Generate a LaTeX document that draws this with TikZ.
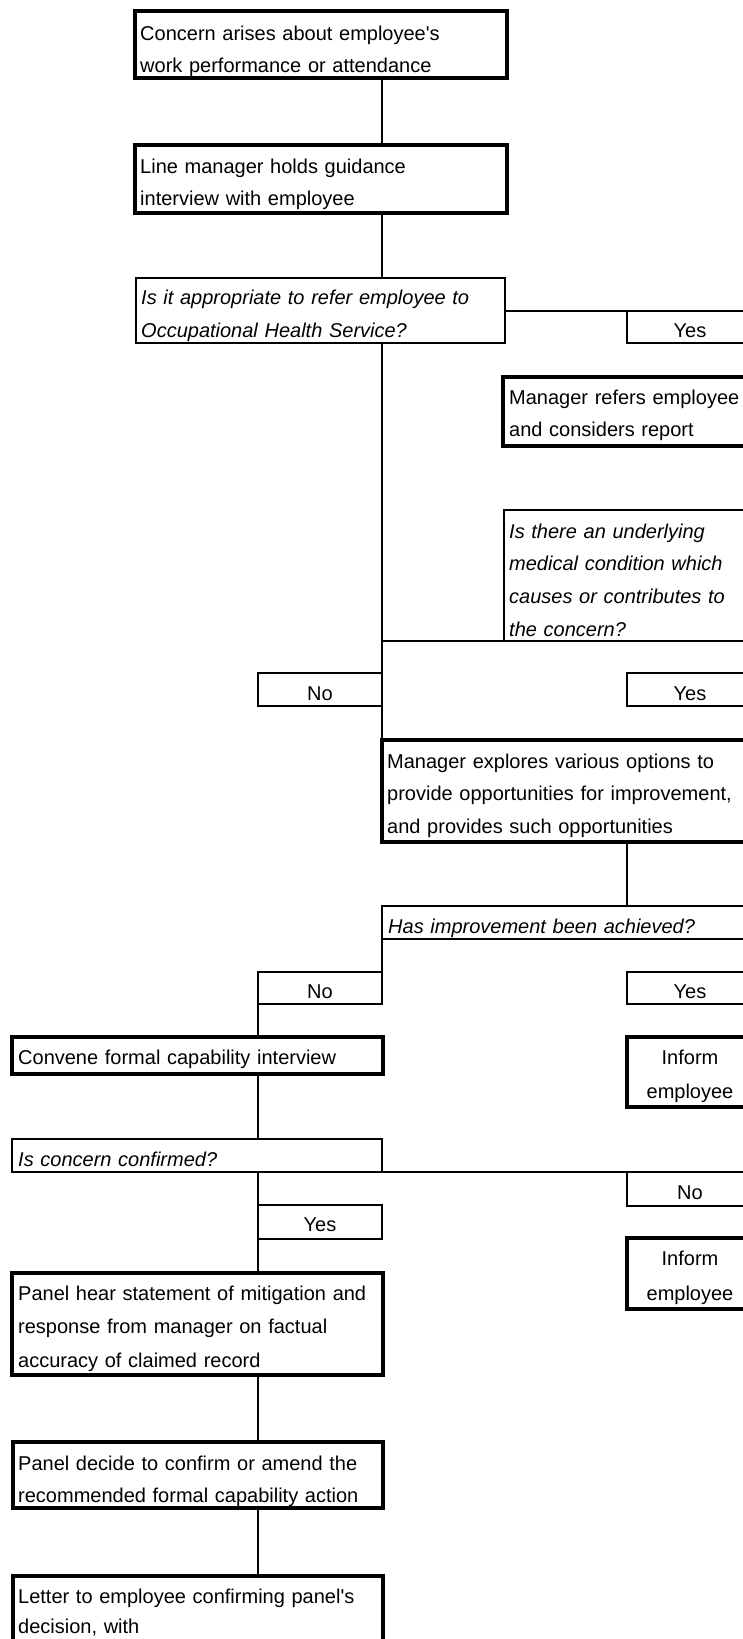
\documentclass[tikz,border=0pt]{standalone}
\usepackage{fontspec}
\setmainfont{Liberation Sans}[Ligatures=TeXOff]
\newcommand{\mystrut}{\rule{0pt}{15pt}}
\begin{document}
\begin{tikzpicture}[x=1pt,y=1pt,
 pbox/.style={draw, line width=4, inner sep=0, outer sep=0, anchor=north west},
 qbox/.style={draw, line width=2, inner sep=0, outer sep=0, anchor=north west},
 lbox/.style={draw, line width=2, inner sep=0, outer sep=0, anchor=north west},
 conn/.style={line width=2.6},
 ltxt/.style={anchor=north west, inner sep=0, text width=430, align=left, font=\fontsize{20}{#1}\selectfont, execute at begin node=\mystrut},
 ltxt/.default=32.5,
 itxt/.style={ltxt=#1, font=\fontsize{20}{#1}\selectfont\itshape},
 itxt/.default=32.5,
 ctxt/.style={anchor=north, inner sep=0, text width=124, align=center, font=\fontsize{20}{#1}\selectfont, execute at begin node=\mystrut},
 ctxt/.default=34,
]
\useasboundingbox (0,0) rectangle (743,-1639);
\clip (0,0) rectangle (743,-1639);

\coordinate (sA) at (382,0);
\coordinate (sB) at (258,0);
\coordinate (sC) at (627,0);
\coordinate (re) at (770,0);

% boxes
\node[pbox, minimum width=372, minimum height=67] (b1) at (135,-11) {};
\node[pbox, minimum width=372, minimum height=68] (b2) at (135,-145) {};
\node[qbox, minimum width=369, minimum height=65] (q1) at (136,-278) {};
\node[lbox, minimum width=126, minimum height=32] (y1) at (627,-311) {};
\node[pbox, minimum width=260, minimum height=69] (mr) at (503,-377) {};
\node[qbox, minimum width=260, minimum height=131] (q2) at (504,-510) {};
\node[lbox, minimum width=124, minimum height=33] (n1) at (258,-673) {};
\node[lbox, minimum width=126, minimum height=33] (y2) at (627,-673) {};
\node[pbox, minimum width=380, minimum height=102] (me) at (382,-740) {};
\node[qbox, minimum width=380, minimum height=33] (q3) at (382,-906) {};
\node[lbox, minimum width=124, minimum height=32] (n2) at (258,-972) {};
\node[lbox, minimum width=126, minimum height=32] (y3) at (627,-972) {};
\node[pbox, minimum width=371, minimum height=37] (cv) at (12,-1037) {};
\node[pbox, minimum width=126, minimum height=70] (i1) at (627,-1037) {};
\node[qbox, minimum width=370, minimum height=33] (q4) at (12,-1139) {};
\node[lbox, minimum width=126, minimum height=34] (n3) at (627,-1172) {};
\node[lbox, minimum width=124, minimum height=34] (y4) at (258,-1205) {};
\node[pbox, minimum width=126, minimum height=71] (i2) at (627,-1238) {};
\node[pbox, minimum width=371, minimum height=102] (ph) at (12,-1273) {};
\node[pbox, minimum width=370, minimum height=66] (pd) at (13,-1442) {};
\node[pbox, minimum width=370, minimum height=110] (lt) at (13,-1576) {};

% connectors
\draw[conn] (b1.south -| sA) -- (b2.north -| sA);
\draw[conn] (b2.south -| sA) -- (q1.north -| sA);
\draw[conn] (y1.north -| q1.east) -- (y1.north -| re);
\draw[conn] (q1.south -| sA) -- (me.north -| sA);
\draw[conn] (q2.south -| sA) -- (q2.south -| re);
\draw[conn] (me.south -| sC) -- (q3.north -| sC);
\draw[conn] (q3.south west) -- (n2.north east);
\draw[conn] (n2.south west) -- (cv.north -| n2.west);
\draw[conn] (cv.south -| sB) -- (q4.north -| sB);
\draw[conn] (q4.south east) -- (q4.south east -| re);
\draw[conn] (q4.south -| sB) -- (y4.north west);
\draw[conn] (y4.south west) -- (ph.north -| sB);
\draw[conn] (ph.south -| sB) -- (pd.north -| sB);
\draw[conn] (pd.south -| sB) -- (lt.north -| sB);

% texts
\node[ltxt=32] (b1t) at (140,-25) {Concern arises about employee's\\work performance or attendance};
\node[ltxt=32] (b2t) at (140,-158) {Line manager holds guidance\\interview with employee};
\node[itxt=33] (q1t) at (141,-289) {Is it appropriate to refer employee to\\Occupational Health Service?};
\node[ctxt] (y1t) at (690,-322) {Yes};
\node[ltxt=32] (mrt) at (509,-389) {Manager refers employee\\and considers report};
\node[itxt=32.7] (q2t) at (509,-523) {Is there an underlying\\medical condition which\\causes or contributes to\\the concern?};
\node[ctxt] (n1t) at (320,-685) {No};
\node[ctxt] (y2t) at (690,-685) {Yes};
\node[ltxt=32.5] (met) at (387,-753) {Manager explores various options to\\provide opportunities for improvement,\\and provides such opportunities};
\node[itxt] (q3t) at (388,-918) {Has improvement been achieved?};
\node[ctxt] (n2t) at (320,-983) {No};
\node[ctxt] (y3t) at (690,-983) {Yes};
\node[ltxt] (cvt) at (18,-1049) {Convene formal capability interview};
\node[ctxt=34] (i1t) at (690,-1049) {Inform\\employee};
\node[itxt] (q4t) at (18,-1151) {Is concern confirmed?};
\node[ctxt] (n3t) at (690,-1184) {No};
\node[ctxt] (y4t) at (320,-1216) {Yes};
\node[ctxt=35] (i2t) at (690,-1250) {Inform\\employee};
\node[ltxt=33.5] (pht) at (18,-1285) {Panel hear statement of mitigation and\\response from manager on factual\\accuracy of claimed record};
\node[ltxt=32] (pdt) at (18,-1455) {Panel decide to confirm or amend the\\recommended formal capability action};
\node[ltxt=30] (ltt) at (18,-1588) {Letter to employee confirming panel's\\decision, with};
\end{tikzpicture}
\end{document}
